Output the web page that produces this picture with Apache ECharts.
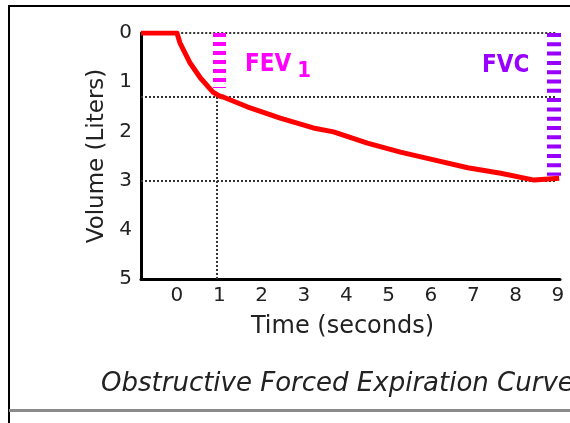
<!DOCTYPE html>
<html>
<head>
<meta charset="utf-8">
<script src="https://cdn.jsdelivr.net/npm/echarts@6/dist/echarts.min.js"></script>
<style>html,body{margin:0;padding:0;background:#fff;}#c{width:570px;height:423px;}</style>
</head>
<body>
<div id="c"></div>
<script>
// Data
const timeSeconds = [-0.85, 0.0, 0.07, 0.31, 0.55, 0.85, 1.0, 1.09, 1.66, 2.44, 3.22, 3.7, 4.5, 5.28, 6.07, 6.87, 7.65, 8.44, 9.03];
const volumeLiters = [0, 0, 0.2, 0.61, 0.91, 1.2, 1.28, 1.3, 1.5, 1.73, 1.93, 2.01, 2.24, 2.42, 2.58, 2.74, 2.85, 2.99, 2.95];
const xTickLabels = [0, 1, 2, 3, 4, 5, 6, 7, 8, 9];
const yTickLabels = [0, 1, 2, 3, 4, 5];
const guideVolumes = [0, 1.3, 3];          // dotted horizontal guides
const fev1Marker = [1.0, 1.12];             // [time, volume] extent of FEV1 bar
const fvcMarker = [8.9, 2.9];               // [time, volume] extent of FVC bar
const fev1Guide = [0.95, 1.3, 5];           // vertical dotted guide: time, from volume, to volume

const chart = echarts.init(document.getElementById('c'), null, {renderer: 'canvas'});
const font = 'DejaVu Sans';
const dotted = {color: '#333', width: 2, type: [2, 2]};

chart.setOption({
  animation: false,
  backgroundColor: '#fff',
  grid: {left: 141, right: 10, top: 33, bottom: 144, containLabel: false},
  xAxis: {
    type: 'value', min: -0.85, max: 9.05,
    axisLine: {show: true, onZero: false, lineStyle: {color: '#000', width: 3}},
    axisTick: {show: false},
    splitLine: {show: false},
    axisLabel: {customValues: xTickLabels, color: '#222', fontSize: 20, fontFamily: font, margin: 7},
    name: 'Time (seconds)', nameLocation: 'middle', nameGap: 36,
    nameTextStyle: {color: '#222', fontSize: 24, fontFamily: font, padding: [0, 16, 0, 0]}
  },
  yAxis: {
    type: 'value', inverse: true, min: 0, max: 5, interval: 1,
    axisLine: {show: true, onZero: false, lineStyle: {color: '#000', width: 3}},
    axisTick: {show: false},
    splitLine: {show: false},
    axisLabel: {color: '#222', fontSize: 20, fontFamily: font, margin: 9,
      formatter: v => yTickLabels.includes(v) ? String(v) : ''},
    name: 'Volume (Liters)', nameLocation: 'middle', nameGap: 32, nameRotate: 90,
    nameTextStyle: {color: '#222', fontSize: 23, fontFamily: font}
  },
  title: {
    text: 'Obstructive Forced Expiration Curve',
    left: 96, top: 366,
    textStyle: {color: '#222', fontSize: 26, fontStyle: 'italic', fontWeight: 'normal', fontFamily: font}
  },
  series: [
    {
      type: 'line', silent: true, symbol: 'none', z: 1,
      data: [],
      markLine: {
        silent: true, symbol: 'none', label: {show: false}, animation: false,
        lineStyle: dotted,
        data: guideVolumes.map(v => [{coord: [v === 0 ? 0.1 : -0.85, v]}, {coord: [8.95, v]}])
          .concat([[{coord: [fev1Guide[0], fev1Guide[1]]}, {coord: [fev1Guide[0], fev1Guide[2]]}]])
      }
    },
    {
      type: 'line', silent: true, symbol: 'none', z: 2, data: [],
      markLine: {
        silent: true, symbol: 'none', label: {show: false}, animation: false,
        data: [
          [{coord: [fev1Marker[0], 0], lineStyle: {color: '#ff00ff', width: 13, type: [4, 5]}},
           {coord: [fev1Marker[0], fev1Marker[1]]}],
          [{coord: [fvcMarker[0], 0], lineStyle: {color: '#9900ff', width: 14, type: [4, 5.3]}},
           {coord: [fvcMarker[0], fvcMarker[1]]}]
        ]
      }
    },
    {
      type: 'line', name: 'Volume', z: 5,
      data: timeSeconds.map((t, i) => [t, volumeLiters[i]]),
      symbol: 'none', smooth: false,
      lineStyle: {color: '#ff0000', width: 5, join: 'round'}
    }
  ],
  graphic: [
    {type: 'line', shape: {x1: 9, y1: 6, x2: 570, y2: 6}, style: {stroke: '#000', lineWidth: 2}},
    {type: 'line', shape: {x1: 9, y1: 5, x2: 9, y2: 423}, style: {stroke: '#000', lineWidth: 2}},
    {type: 'line', shape: {x1: 9, y1: 410.5, x2: 570, y2: 410.5}, style: {stroke: '#8a8a8a', lineWidth: 3}},
    {type: 'text', left: 245, top: 53, style: {
      text: '{m|FEV}{s|1}',
      rich: {
        m: {fill: '#ff00ff', fontSize: 24, fontWeight: 'bold', fontFamily: 'DejaVu Sans Condensed'},
        s: {fill: '#ff00ff', fontSize: 22, fontWeight: 'bold', fontFamily: 'DejaVu Sans Condensed', padding: [12, 0, 0, 6]}
      }
    }},
    {type: 'text', left: 482, top: 54, style: {
      text: 'FVC', fill: '#9900ff', fontSize: 24, fontWeight: 'bold', fontFamily: 'DejaVu Sans Condensed'
    }}
  ]
});
</script>
</body>
</html>
